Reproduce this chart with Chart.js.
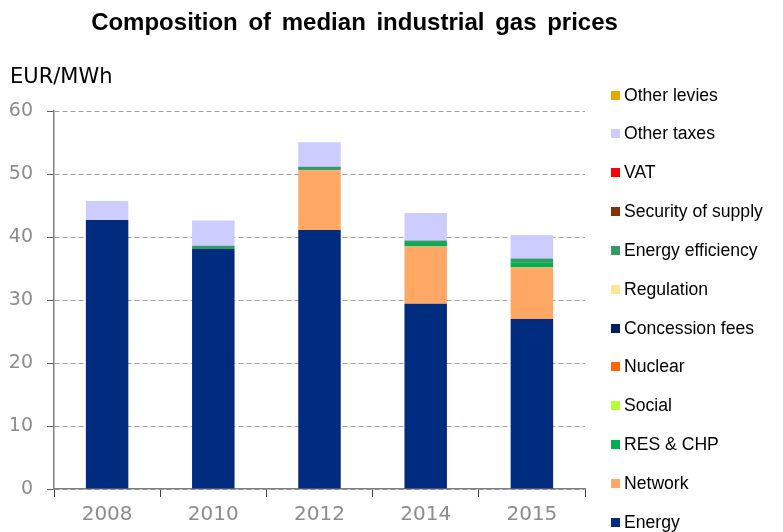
<!DOCTYPE html>
<html>
<head>
<meta charset="utf-8">
<script src="https://cdn.jsdelivr.net/npm/chart.js@4/dist/chart.umd.min.js"></script>
<style>
  html, body { margin: 0; padding: 0; background: #ffffff; }
  #wrap { position: relative; width: 783px; height: 532px; overflow: hidden; }
  #c { position: absolute; left: 0; top: 0; }
  #title { position: absolute; left: 0; top: 7px; width: 709px; text-align: center;
    font-family: "Liberation Sans", Arial, sans-serif; font-weight: bold; font-size: 24px;
    word-spacing: 4px; color: #000; white-space: nowrap; line-height: 30px; }
  #unit { position: absolute; left: 10px; top: 63px; font-family: "DejaVu Sans", Verdana, sans-serif;
    font-size: 21px; color: #000; line-height: 26px; white-space: nowrap; }
  .lg { position: absolute; left: 611px; height: 20px; white-space: nowrap;
    font-family: "Liberation Sans", Arial, sans-serif; font-size: 17.6px; color: #000; line-height: 20px; }
  .lg span.sw { position: absolute; left: 0; top: 6px; width: 9px; height: 9px; }
  .lg span.tx { position: absolute; left: 13px; top: 0; }
</style>
</head>
<body>
<div id="wrap">
  <canvas id="c" width="783" height="532"></canvas>
  <div id="title">Composition of median industrial gas prices</div>
  <div id="unit">EUR/MWh</div>
  <div id="legend"></div>
</div>
<script>
// ---- Data ----
const categories = ['2008', '2010', '2012', '2014', '2015'];
const energy            = [42.7, 38.1, 41.1, 29.4, 27.0];
const network           = [0, 0, 9.5, 9.1, 8.2];
const resChp            = [0, 0, 0, 0.55, 0.8];
const social            = [0, 0, 0, 0, 0];
const nuclear           = [0, 0, 0, 0, 0];
const concessionFees    = [0, 0, 0, 0, 0];
const regulation        = [0, 0, 0, 0, 0];
const energyEfficiency  = [0, 0.5, 0.55, 0.4, 0.6];
const securityOfSupply  = [0, 0, 0, 0, 0];
const vat               = [0, 0, 0, 0, 0];
const otherTaxes        = [3.0, 4.0, 3.9, 4.35, 3.7];
const otherLevies       = [0, 0, 0, 0, 0];
const yTickValues       = [0, 10, 20, 30, 40, 50, 60];

const seriesNames = ['Energy', 'Network', 'RES & CHP', 'Social', 'Nuclear', 'Concession fees',
  'Regulation', 'Energy efficiency', 'Security of supply', 'VAT', 'Other taxes', 'Other levies'];
const seriesValues = [energy, network, resChp, social, nuclear, concessionFees,
  regulation, energyEfficiency, securityOfSupply, vat, otherTaxes, otherLevies];

// ---- Styles ----
const seriesColors = ['#002b7e', '#ffa764', '#00b050', '#b3ff33', '#ff6600', '#002060',
  '#ffe699', '#339966', '#7f3300', '#ff0000', '#ccccff', '#e6a800'];

const datasets = seriesNames.map((name, i) => ({
  label: name,
  data: seriesValues[i],
  backgroundColor: seriesColors[i],
  borderWidth: 0,
  barPercentage: 0.4,
  categoryPercentage: 1.0
}));

new Chart(document.getElementById('c'), {
  type: 'bar',
  data: { labels: categories, datasets: datasets },
  options: {
    responsive: false,
    devicePixelRatio: 1,
    animation: false,
    layout: { padding: { top: 111, right: 198, bottom: 0, left: 0 } },
    plugins: { legend: { display: false }, title: { display: false }, tooltip: { enabled: false } },
    scales: {
      x: {
        stacked: true,
        offset: true,
        grid: { display: true, offset: true, drawOnChartArea: false, drawTicks: true,
                tickLength: 8, tickColor: '#404040', tickWidth: 1 },
        border: { display: true, color: '#808080', width: 1.5 },
        ticks: { color: '#8c8c8c', padding: 6, font: { family: 'DejaVu Sans', size: 20 } },
        afterFit(scale) { scale.height = 43; }
      },
      y: {
        stacked: true,
        min: 0,
        max: 60,
        afterBuildTicks(scale) { scale.ticks = yTickValues.map(v => ({ value: v })); },
        grid: { display: true, color: '#a0a0a0', lineWidth: 1, drawTicks: true, tickLength: 7,
                tickColor: '#606060', tickBorderDash: [], tickWidth: 1 },
        border: { display: true, color: '#808080', width: 1.5, dash: [5, 3] },
        ticks: { color: '#8c8c8c', padding: 14, font: { family: 'DejaVu Sans', size: 19 } },
        afterFit(scale) { scale.width = 54; }
      }
    }
  }
});

// ---- Legend (reverse order, top = last series) ----
const legend = document.getElementById('legend');
for (let k = 0; k < seriesNames.length; k++) {
  const i = seriesNames.length - 1 - k;
  const row = document.createElement('div');
  row.className = 'lg';
  row.style.top = (84.5 + k * 38.85) + 'px';
  const sw = document.createElement('span');
  sw.className = 'sw';
  sw.style.background = seriesColors[i];
  const tx = document.createElement('span');
  tx.className = 'tx';
  tx.textContent = seriesNames[i];
  row.appendChild(sw);
  row.appendChild(tx);
  legend.appendChild(row);
}
</script>
</body>
</html>
